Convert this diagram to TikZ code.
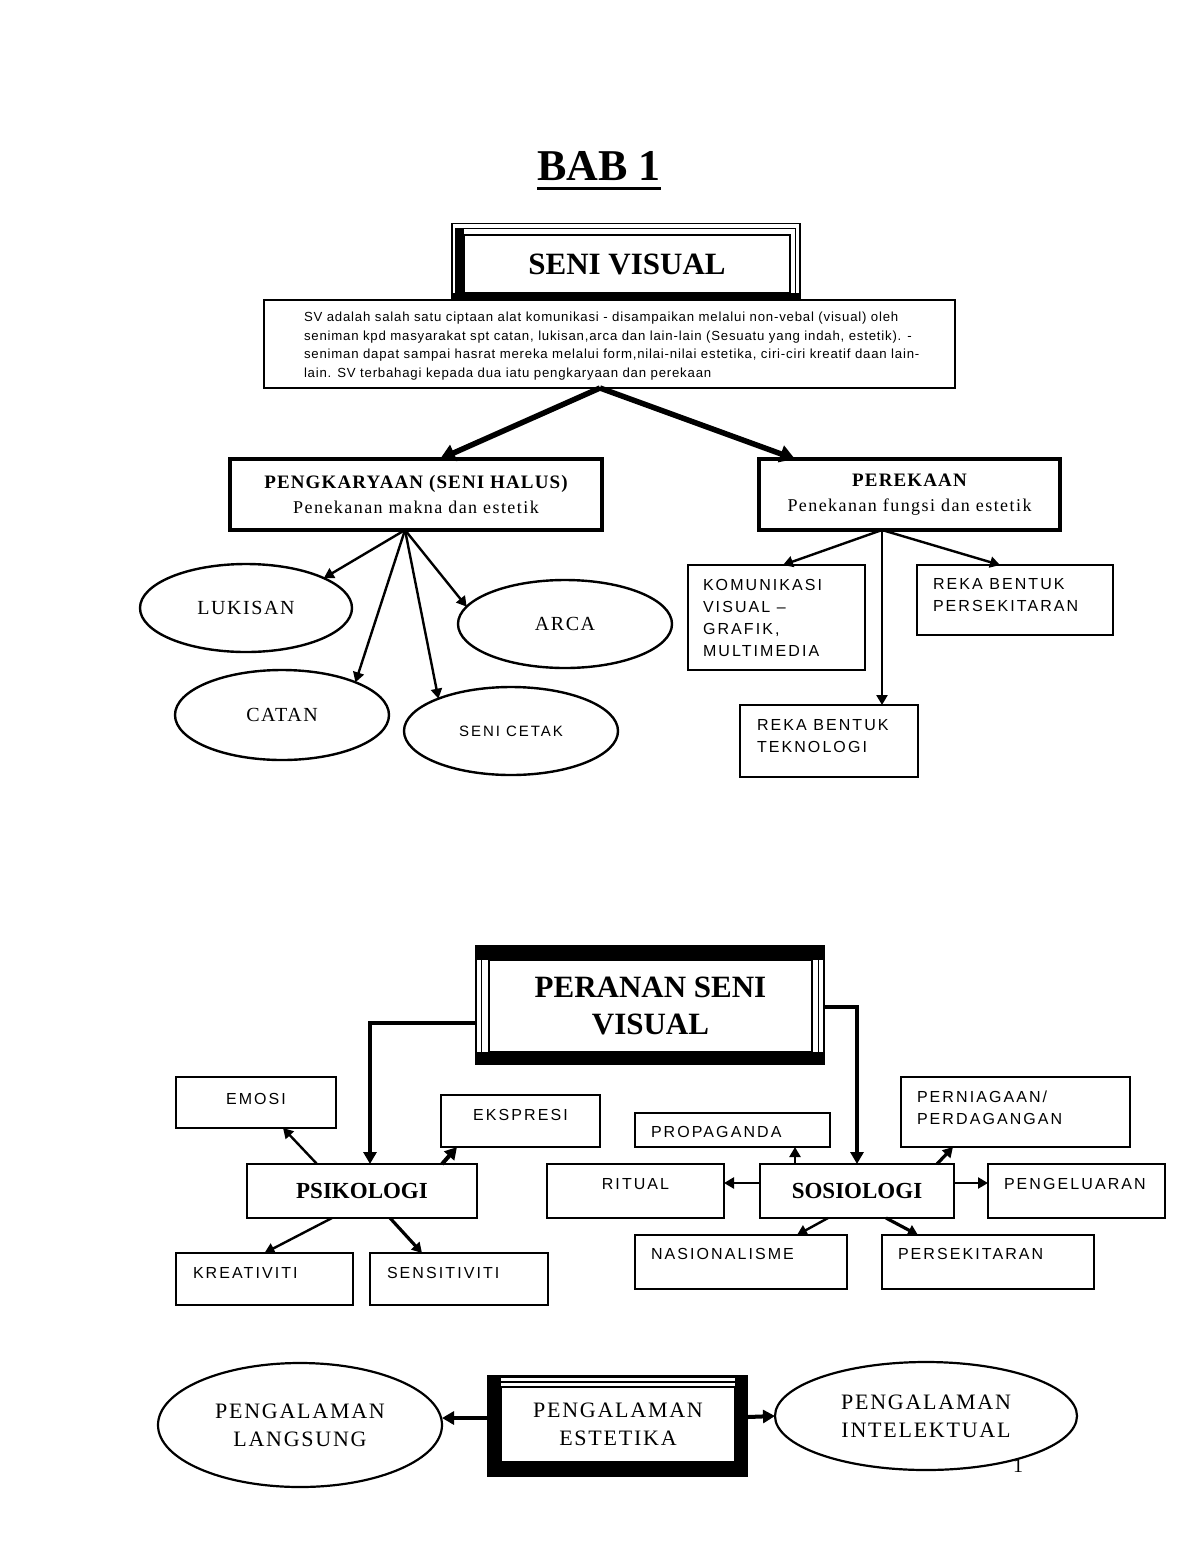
\documentclass[tikz,border=0pt]{standalone}
\usepackage{fontspec}
\setmainfont{Liberation Serif}
\newfontfamily\lsans[LetterSpace=13]{Liberation Sans}
\newfontfamily\dsans[LetterSpace=6]{Liberation Sans}
\newfontfamily\lserif[LetterSpace=8]{Liberation Serif}
\newfontfamily\hserif[LetterSpace=6]{Liberation Serif}
\usetikzlibrary{arrows.meta,shapes.geometric}
\begin{document}
\begin{tikzpicture}[x=1pt,y=-1pt,
  every node/.style={inner sep=0pt,outer sep=0pt},
  rbox/.style={draw,rectangle,line width=2.4pt},
  hbox/.style={draw,rectangle,line width=3.2pt},
  thinbox/.style={draw,rectangle,line width=1.4pt},
  ell/.style={draw,ellipse,line width=2.4pt},
  lab/.style={anchor=north west,align=left,font=\lsans\fontsize{16}{22.2}\selectfont},
  labc/.style={anchor=north,align=center,font=\lsans\fontsize{16}{22.2}\selectfont},
  ellt/.style={align=center,font=\lserif\fontsize{20}{26}\selectfont},
  bigt/.style={align=center,font=\lserif\fontsize{22}{28}\selectfont},
  twot/.style={align=center,font=\fontsize{19}{25}\selectfont},
  bigarr/.style={line width=5.5pt,-{Triangle[length=15pt,width=17pt]}},
  arr/.style={line width=2.4pt,-{Triangle[length=10pt,width=11pt]}},
  karr/.style={line width=4pt,-{Triangle[length=12pt,width=13pt]}}
]
\useasboundingbox (0,0) rectangle (1200,1553);
\fill[white] (0,0) rectangle (1200,1553);

% ---------- title ----------
\node[anchor=base,font=\bfseries\fontsize{44}{44}\selectfont] (bab) at (599,180) {BAB 1};
\draw[line width=3pt] ([yshift=-8.5]bab.base west) -- ([yshift=-8.5]bab.base east);

% ---------- SENI VISUAL frame ----------
\draw[line width=1.4pt] (452,300) -- (452,223.7) -- (800,223.7) -- (800,300);
\draw[line width=1.4pt] (455,228.3) -- (795.3,228.3) -- (795.3,300);
\fill (455,228) rectangle (464,300);
\fill (452,293) rectangle (800,300);
\node[thinbox,minimum width=326,minimum height=58,font=\bfseries\fontsize{31}{31}\selectfont] (sv) at (627,264) {SENI VISUAL};

% ---------- description ----------
\node[draw,rectangle,line width=2pt,minimum width=691,minimum height=88] (desc) at (609.5,344) {};
\node[anchor=west,align=left,font=\dsans\fontsize{13.2}{18.5}\selectfont] (desct) at ([shift={(40,2)}]desc.west) {SV adalah salah satu ciptaan alat komunikasi - disampaikan melalui non-vebal (visual) oleh\\seniman kpd masyarakat spt catan, lukisan,arca dan lain-lain (Sesuatu yang indah, estetik). -\\seniman dapat sampai hasrat mereka melalui form,nilai-nilai estetika, ciri-ciri kreatif daan lain-\\lain. SV terbahagi kepada dua iatu pengkaryaan dan perekaan};

% ---------- PENGKARYAAN / PEREKAAN ----------
\node[hbox,minimum width=372,minimum height=71,twot] (pk) at (416,494.5)
  {\hserif\bfseries PENGKARYAAN (SENI HALUS)\\\lserif\mdseries\fontsize{18}{25}\selectfont Penekanan makna dan estetik};
\node[hbox,minimum width=301,minimum height=71,twot] (pr) at (909.5,494.5)
  {\hserif\bfseries PEREKAAN\\\lserif\mdseries\fontsize{18}{25}\selectfont Penekanan fungsi dan estetik};

\coordinate (dsrc) at ([xshift=-9.5]desc.south);
\draw[bigarr] (dsrc) -- ([xshift=24]pk.north);
\draw[bigarr] (dsrc) -- ([xshift=-114.5]pr.north);

% ---------- ellipses ----------
\node[ell,minimum width=212,minimum height=88,ellt] (luk) at (246,608) {LUKISAN};
\node[ell,minimum width=214,minimum height=88,ellt] (arca) at (565,624) {ARCA};
\node[ell,minimum width=214,minimum height=90,ellt] (catan) at (282,715) {CATAN};
\node[ell,minimum width=214,minimum height=88,font=\lsans\fontsize{15}{20}\selectfont] (cetak) at (511,731) {SENI CETAK};

\coordinate (pkb) at ([xshift=-11]pk.south);
\draw[arr] (pkb) -- (luk.21);
\draw[arr] (pkb) -- (catan.24);
\draw[arr] (pkb) -- (cetak.156);
\draw[arr] (pkb) -- (arca.170);

% ---------- perekaan children ----------
\node[rbox,minimum width=177,minimum height=105] (kom) at (776.5,617.5) {};
\node[lab] (komt) at ([shift={(15,14)}]kom.north west) {KOMUNIKASI\\VISUAL –\\GRAFIK,\\MULTIMEDIA};
\node[rbox,minimum width=196,minimum height=70] (rbp) at (1015,600) {};
\node[lab] (rbpt) at ([shift={(16,13)}]rbp.north west) {REKA BENTUK\\PERSEKITARAN};
\node[rbox,minimum width=178,minimum height=72] (tek) at (829,741) {};
\node[lab] (tekt) at ([shift={(17,14)}]tek.north west) {REKA BENTUK\\TEKNOLOGI};

\coordinate (prb) at ([xshift=-27.5]pr.south);
\draw[arr] (prb) -- ([xshift=6.5]kom.north);
\draw[arr] (prb) -- ([xshift=-15]rbp.north);
\draw[arr] (prb) -- ([xshift=53]tek.north);

% ---------- PERANAN SENI VISUAL frame ----------
\fill (475,945) rectangle (825,960);
\fill (475,1052) rectangle (825,1065);
\draw[line width=1.4pt] (476,945) -- (476,1065);
\draw[line width=1.4pt] (481.5,945) -- (481.5,1065);
\draw[line width=1.4pt] (818.5,945) -- (818.5,1065);
\draw[line width=1.4pt] (824,945) -- (824,1065);
\node[thinbox,minimum width=323,minimum height=92,align=center,font=\bfseries\fontsize{31}{37}\selectfont] (per) at (650.5,1006) {PERANAN SENI\\VISUAL};

% ---------- psikologi ----------
\node[rbox,minimum width=230,minimum height=54,font=\bfseries\fontsize{23}{23}\selectfont] (psi) at (362,1191) {PSIKOLOGI};
\node[rbox,minimum width=160,minimum height=51] (emo) at (256,1102.5) {};
\node[labc] (emot) at ([yshift=-16]emo.north) {EMOSI};
\node[rbox,minimum width=159,minimum height=52] (eks) at (520.5,1121) {};
\node[labc] (ekst) at ([yshift=-14]eks.north) {EKSPRESI};
\node[rbox,minimum width=177,minimum height=52] (kre) at (264.5,1279) {};
\node[lab] (kret) at ([shift={(17,14)}]kre.north west) {KREATIVITI};
\node[rbox,minimum width=178,minimum height=52] (sen) at (459,1279) {};
\node[lab] (sent) at ([shift={(17,14)}]sen.north west) {SENSITIVITI};

\coordinate (pl) at ([shift={(-14,17)}]per.west);
\draw[karr] (pl) -| ([xshift=8]psi.north);
\draw[arr] ([xshift=-45]psi.north) -- ([xshift=27]emo.south);
\draw[karr] ([xshift=80]psi.north) -- ([xshift=-63.5]eks.south);
\draw[arr] ([xshift=-30]psi.south) -- (kre.north);
\draw[arr,line width=3.2pt] ([xshift=28]psi.south) -- ([xshift=-37]sen.north);

% ---------- sosiologi ----------
\node[rbox,minimum width=194,minimum height=54,font=\bfseries\fontsize{23}{23}\selectfont] (soc) at (857,1191) {SOSIOLOGI};
\node[rbox,minimum width=195,minimum height=34] (prop) at (732.5,1130) {};
\node[lab] (propt) at ([shift={(16,13)}]prop.north west) {PROPAGANDA};
\node[rbox,minimum width=229,minimum height=70] (niaga) at (1015.5,1112) {};
\node[lab] (niagat) at ([shift={(16,14)}]niaga.north west) {PERNIAGAAN/\\PERDAGANGAN};
\node[rbox,minimum width=177,minimum height=54] (rit) at (635.5,1191) {};
\node[labc] (ritt) at ([yshift=-14]rit.north) {RITUAL};
\node[rbox,minimum width=177,minimum height=54] (keluar) at (1076.5,1191) {};
\node[lab] (keluart) at ([shift={(16,14)}]keluar.north west) {PENGELUARAN};
\node[rbox,minimum width=212,minimum height=54] (nas) at (741,1262) {};
\node[lab] (nast) at ([shift={(16,13)}]nas.north west) {NASIONALISME};
\node[rbox,minimum width=212,minimum height=54] (pers) at (988,1262) {};
\node[lab] (perst) at ([shift={(16,13)}]pers.north west) {PERSEKITARAN};

\coordinate (prr) at ([shift={(13,1)}]per.east);
\draw[karr] (prr) -| (soc.north);
\draw[arr] ([xshift=-62]soc.north) -- ([xshift=62.5]prop.south);
\draw[arr,line width=3.2pt] ([xshift=80]soc.north) -- ([xshift=-62.5]niaga.south);
\draw[arr] ([yshift=8]soc.west) -- ([yshift=8]rit.east);
\draw[arr] ([yshift=8]soc.east) -- ([yshift=8]keluar.west);
\draw[arr] ([xshift=-29]soc.south) -- ([xshift=56]nas.north);
\draw[arr,line width=3.2pt] ([xshift=29]soc.south) -- ([xshift=-70]pers.north);

% ---------- pengalaman ----------
\fill (487,1375) rectangle (748,1377.5);
\fill (487,1381) rectangle (748,1383);
\fill (487,1375) rectangle (501,1477);
\fill (735,1375) rectangle (748,1477);
\fill (487,1462) rectangle (748,1477);
\node[thinbox,fill=white,minimum width=234,minimum height=75,bigt] (est) at (618,1424.5) {PENGALAMAN\\ESTETIKA};
\node[ell,line width=2.2pt,minimum width=284,minimum height=124,bigt] (lang) at (300,1425) {PENGALAMAN\\LANGSUNG};
\node[ell,line width=2.2pt,minimum width=302,minimum height=108,bigt] (intel) at (926,1416) {PENGALAMAN\\INTELEKTUAL};
\draw[karr] ([shift={(-14,-6.5)}]est.west) -- ([yshift=7]lang.east);
\draw[karr] ([shift={(13,-7.5)}]est.east) -- (intel.west);

\node[font=\fontsize{20}{20}\selectfont] (pgno) at (1018,1466) {1};
\end{tikzpicture}
\end{document}
